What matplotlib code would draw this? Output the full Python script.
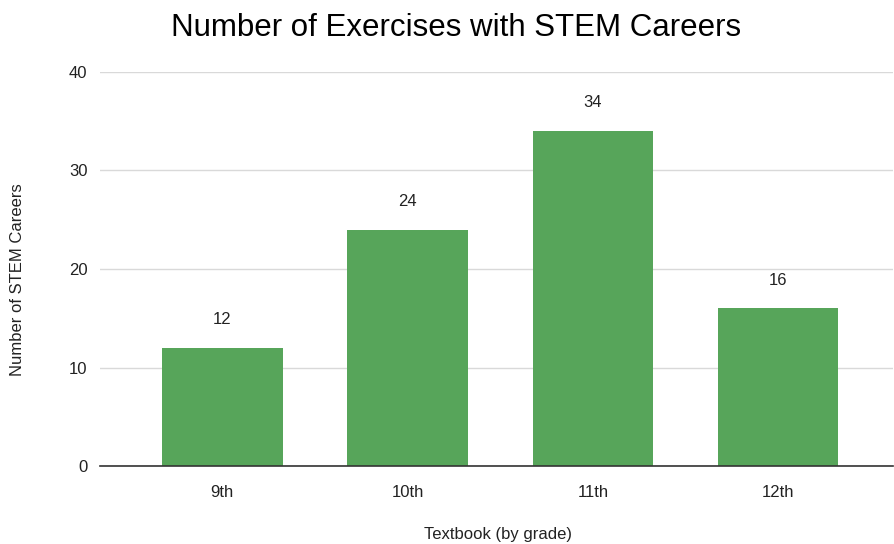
import matplotlib.pyplot as plt

plt.rcParams['font.family'] = ['Liberation Sans', 'DejaVu Sans']

grades = ['9th', '10th', '11th', '12th']
counts = [12, 24, 34, 16]
y_ticks = [0, 10, 20, 30, 40]

fig = plt.figure(figsize=(8.94, 5.44), dpi=100)
ax = fig.add_axes([100 / 894, 78 / 544, 793 / 894, 394 / 544])

x = list(range(len(grades)))
bars = ax.bar(x, counts, width=0.65, color='#57a55a', zorder=3)

for xi, v in zip(x, counts):
    ax.annotate(str(v), (xi, v), xytext=(0, 15), textcoords='offset points',
                ha='center', va='bottom', fontsize=12, color='#222222')

ax.set_xlim(-0.66, 3.62)
ax.set_ylim(0, 40)
ax.set_yticks(y_ticks)
ax.set_xticks(x)
ax.set_xticklabels(grades)
ax.tick_params(axis='both', length=0, labelsize=12, colors='#222222')
ax.tick_params(axis='y', pad=9)
ax.tick_params(axis='x', pad=14)

ax.grid(axis='y', color='#d9d9d9', linewidth=1, zorder=0)
for side in ['top', 'right', 'left']:
    ax.spines[side].set_visible(False)
ax.spines['bottom'].set_color('#333333')
ax.spines['bottom'].set_linewidth(1.2)
ax.spines['bottom'].set_zorder(4)

fig.text(498 / 894, 1 - 534 / 544, 'Textbook (by grade)', fontsize=12,
         color='#222222', ha='center', va='center')
fig.text(18 / 894, 1 - 280 / 544, 'Number of STEM Careers', fontsize=12,
         color='#222222', ha='center', va='center', rotation=90)
fig.text(456 / 894, 1 - 28 / 544, 'Number of Exercises with STEM Careers',
         fontsize=22.5, ha='center', va='center')

fig.savefig('out.png', dpi=100)
